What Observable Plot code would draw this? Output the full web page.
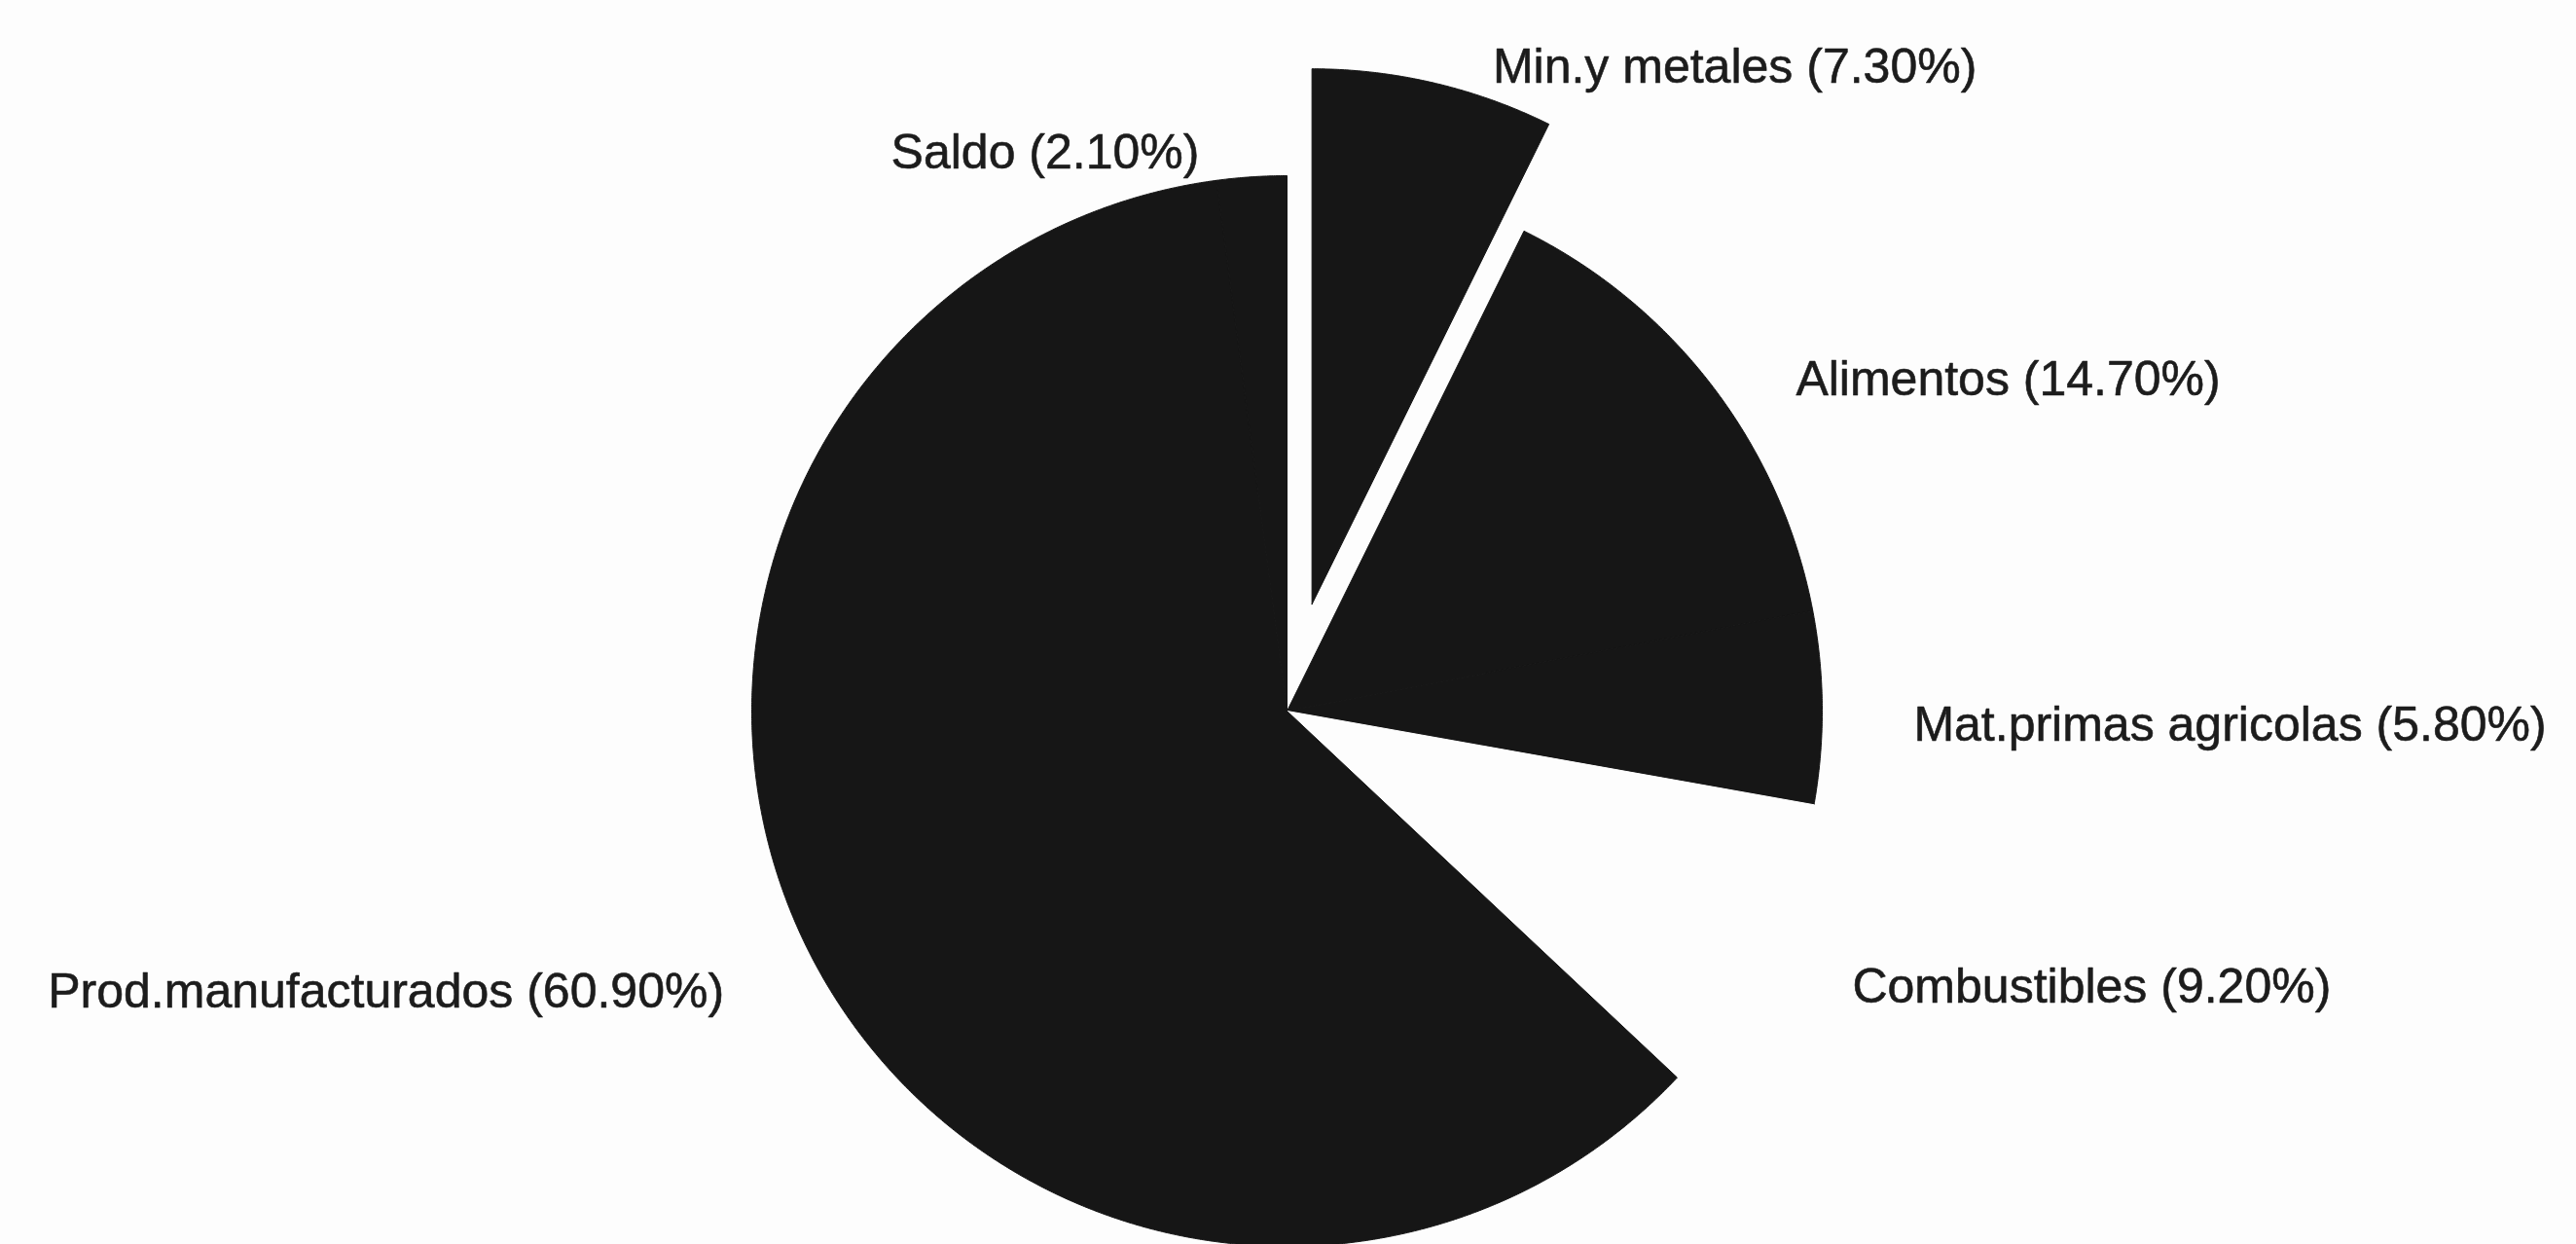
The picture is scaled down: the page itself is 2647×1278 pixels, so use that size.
<!DOCTYPE html>
<html>
<head>
<meta charset="utf-8">
<script src="https://cdn.jsdelivr.net/npm/d3@7"></script>
<script src="https://cdn.jsdelivr.net/npm/@observablehq/plot@0.6"></script>
<style>
  html, body { margin: 0; padding: 0; background: #fdfdfd; }
  #chart svg { display: block; }
</style>
</head>
<body>
<div id="chart"></div>
<script>
// ---- data ----
const categories = ["Min.y metales", "Alimentos", "Mat.primas agricolas", "Combustibles", "Prod.manufacturados", "Saldo"];
const shares = [7.3, 14.7, 5.8, 9.2, 60.9, 2.1];
const explodedCategories = ["Min.y metales"];

// ---- styles / layout ----
const sliceColors = ["#161616", "#161616", "#161616", "#fdfdfd", "#161616", "#161616"];
const W = 2647, H = 1278;
const cx = 1322, cy = 730, R = 550;   // pixel centre and radius of the pie
const explodeDist = 0.205;            // in radii
const labelR = 1.078;                 // label ring (in radii)
const labelGap = 51;                  // horizontal gap of label from its anchor (px)
const labelDy = 18;                   // vertical offset of label (px)
const fontSize = 50;

const total = d3.sum(shares);
let acc = 0;
const slices = categories.map((c, i) => {
  const a0 = acc / total * 2 * Math.PI;
  acc += shares[i];
  const a1 = acc / total * 2 * Math.PI;
  const mid = (a0 + a1) / 2;
  const ex = explodedCategories.includes(c) ? explodeDist : 0;
  return {category: c, value: shares[i], a0, a1, mid, ox: ex * Math.sin(mid), oy: ex * Math.cos(mid)};
});

// polygon points for each slice (unit circle coordinates, clockwise from 12 o'clock)
const pts = [];
for (const s of slices) {
  pts.push({category: s.category, x: s.ox, y: s.oy});
  const n = Math.max(2, Math.ceil((s.a1 - s.a0) / (Math.PI / 720)));
  for (let k = 0; k <= n; k++) {
    const a = s.a0 + (s.a1 - s.a0) * k / n;
    pts.push({category: s.category, x: s.ox + Math.sin(a), y: s.oy + Math.cos(a)});
  }
  pts.push({category: s.category, x: s.ox, y: s.oy});
}

const xDomain = [-cx / R, (W - cx) / R];
const yDomain = [-(H - cy) / R, cy / R];
const yTop = yDomain[1] - 50 / R;

const labels = slices.map(s => ({
  text: `${s.category} (${s.value.toFixed(2)}%)`,
  x: s.ox + labelR * Math.sin(s.mid),
  y: Math.min(s.oy + labelR * Math.cos(s.mid), yTop),
  right: Math.sin(s.mid) >= 0
}));

const textStyle = {
  fontSize, fontFamily: "'Liberation Sans', Arial, sans-serif",
  fill: "#1c1c1c", stroke: "#1c1c1c", strokeWidth: 0.6, dy: labelDy
};

const chart = Plot.plot({
  width: W, height: H,
  margin: 0,
  style: {background: "#fdfdfd"},
  x: {domain: xDomain, range: [0, W], axis: null},
  y: {domain: yDomain, range: [H, 0], axis: null},
  color: {domain: categories, range: sliceColors},
  marks: [
    Plot.line(pts, {x: "x", y: "y", z: "category", fill: "category", stroke: "category", strokeWidth: 1, curve: "linear"}),
    Plot.text(labels.filter(d => d.right), {x: "x", y: "y", text: "text", textAnchor: "start", dx: labelGap, ...textStyle}),
    Plot.text(labels.filter(d => !d.right), {x: "x", y: "y", text: "text", textAnchor: "end", dx: -labelGap, ...textStyle})
  ]
});
document.getElementById("chart").appendChild(chart);
</script>
</body>
</html>
